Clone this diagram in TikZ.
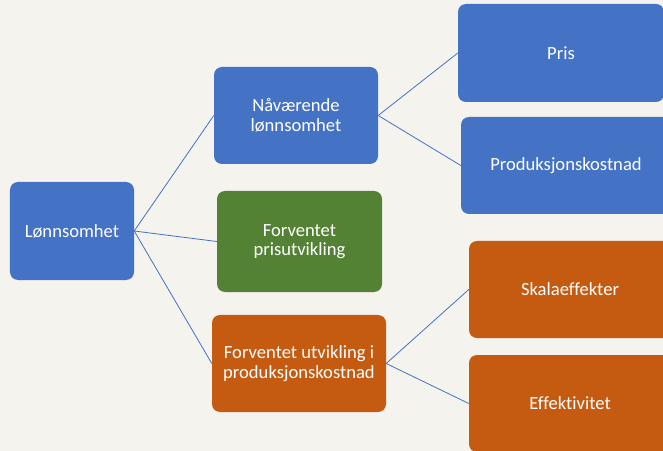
\documentclass[tikz,border=0pt]{standalone}
\usepackage{fontspec}
\setmainfont{Carlito}[Ligatures={NoCommon,NoDiscretionary}]
\definecolor{bg}{HTML}{F4F3EE}
\definecolor{cblue}{HTML}{4472C4}
\definecolor{cgreen}{HTML}{548235}
\definecolor{corange}{HTML}{C55A11}
\begin{document}
\begin{tikzpicture}[x=1bp,y=-1bp,
  box/.style={rounded corners=8bp, text=white, align=center,
    font=\fontsize{18.6bp}{19.5bp}\selectfont, inner sep=0pt},
  link/.style={draw=cblue, line width=0.8bp}]
\useasboundingbox (0,0) rectangle (663,451);
\fill[bg] (0,0) rectangle (663,451);
\clip (0,0) rectangle (663,451);
% boxes
\node[box, fill=cblue, minimum width=124bp, minimum height=98bp] (lon) at (72,231) {Lønnsomhet};
\node[box, fill=cblue, minimum width=164bp, minimum height=97bp] (naa) at (296,115.5) {Nåværende\\lønnsomhet};
\node[box, fill=cgreen, minimum width=165bp, minimum height=101bp] (pri) at (299.5,241.5) {Forventet\\prisutvikling};
\node[box, fill=corange, minimum width=174bp, minimum height=97bp] (utv) at (299,363.5) {Forventet utvikling i\\produksjonskostnad};
\node[box, fill=cblue, minimum width=206bp, minimum height=98bp] (pris) at (561,53) {Pris};
\node[box, fill=cblue, minimum width=210bp, minimum height=97bp] (prod) at (566,165.5) {Produksjonskostnad};
\node[box, fill=corange, minimum width=202bp, minimum height=97bp] (skal) at (570,289.5) {Skalaeffekter};
\node[box, fill=corange, minimum width=202bp, minimum height=97bp] (eff) at (570,403.5) {Effektivitet};
% connectors
\draw[link] (lon.east) -- (naa.west);
\draw[link] (lon.east) -- (pri.west);
\draw[link] (lon.east) -- (utv.west);
\draw[link] (naa.east) -- (pris.west);
\draw[link] (naa.east) -- (prod.west);
\draw[link] (utv.east) -- (skal.west);
\draw[link] (utv.east) -- (eff.west);
\end{tikzpicture}
\end{document}
